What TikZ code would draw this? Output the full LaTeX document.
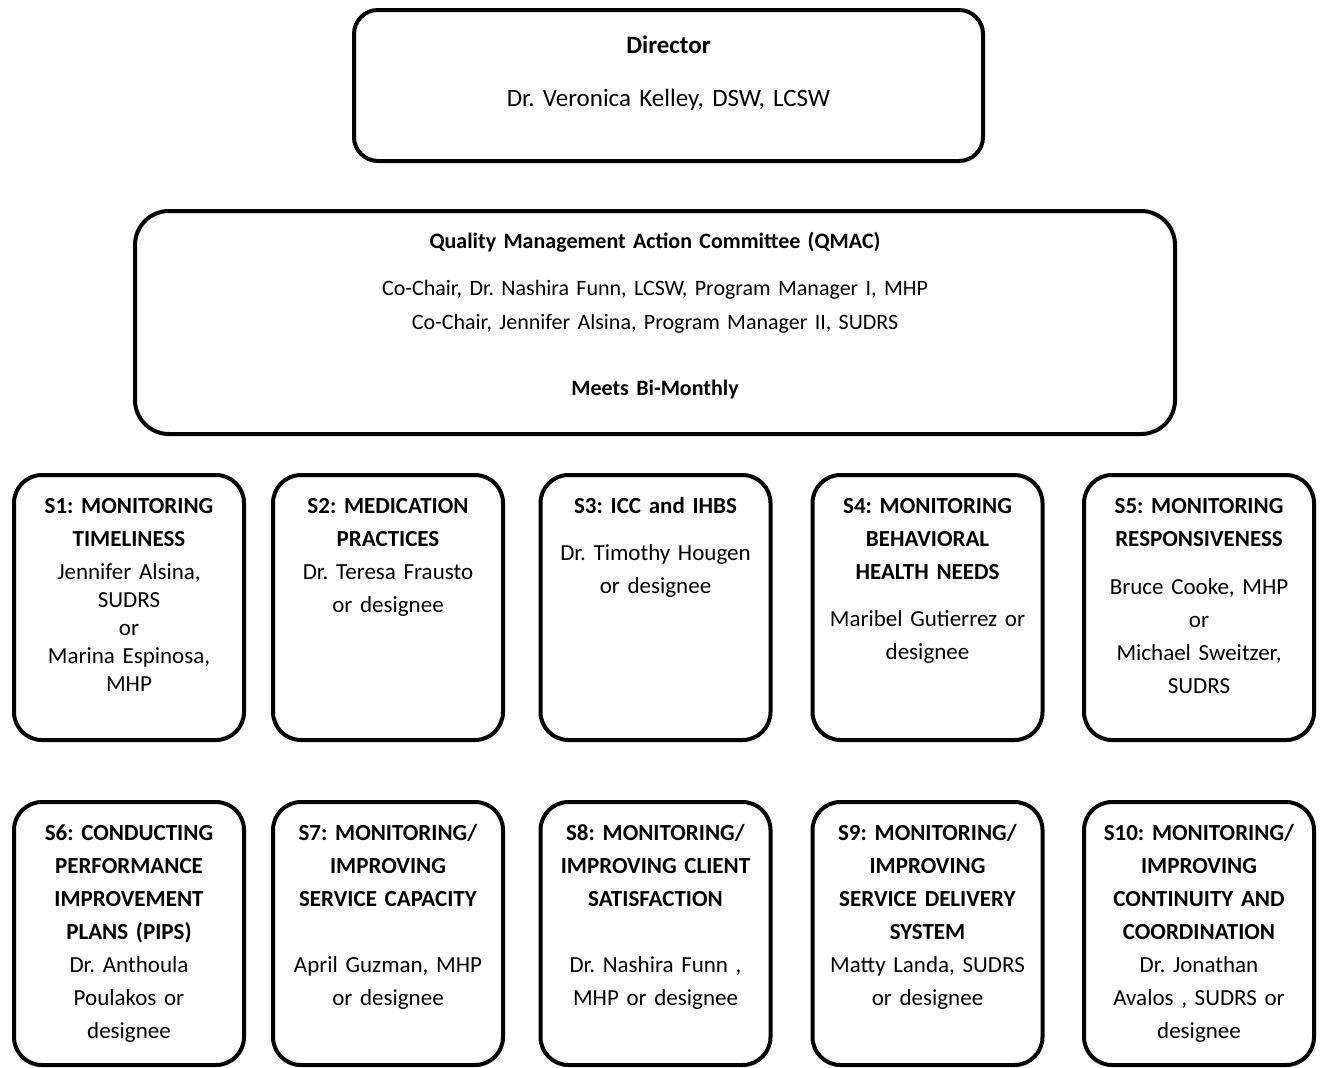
\documentclass[tikz,border=0pt]{standalone}
\usepackage{fontspec}
\setmainfont{Carlito}
\usetikzlibrary{positioning}
\frenchspacing
\tikzset{
  headbox/.style={draw,line width=2pt,outer sep=0pt,inner sep=0pt,align=center},
  unitbox/.style={draw,line width=2pt,rounded corners=14pt,outer sep=0pt,
    inner xsep=4pt,inner ysep=0pt,text width=107pt,align=center,
    text height=19.25pt,text depth=113.25pt,
    font=\fontsize{11.5}{16.5}\selectfont},
  lowbox/.style={unitbox,text height=19pt,text depth=112.5pt}
}

\begin{document}
\begin{tikzpicture}[x=0.5pt,y=-0.5pt]
  \useasboundingbox (0,0) rectangle (1320,1067);
  % top of the chart
  \node[headbox,rounded corners=12pt,text width=314.5pt,text height=21.5pt,text depth=54pt,
    font=\fontsize{12.5}{26.5}\selectfont] (director) at (668.5,85.5)
    {\textbf{Director}\\Dr. Veronica Kelley, DSW, LCSW};
  \node[headbox,rounded corners=17pt,text width=520pt,text height=18.5pt,text depth=93pt,
    font=\fontsize{11}{17}\selectfont] (qmac) at (655,322.5)
    {\textbf{Quality Management Action Committee (QMAC)}\\[6.5pt]
     Co-Chair, Dr. Nashira Funn, LCSW, Program Manager I, MHP\\
     Co-Chair, Jennifer Alsina, Program Manager II, SUDRS\\[16pt]
     \textbf{Meets Bi-Monthly}};
  % first row of subcommittees
  \node[unitbox] (s1) at (129,607.5)
    {\textbf{S1: MONITORING}\\\textbf{TIMELINESS}\\Jennifer Alsina,\\[-2.5pt]SUDRS\\[-2.5pt]or\\[-2.5pt]Marina Espinosa,\\[-2.5pt]MHP};
  \node[unitbox] (s2) at (388,607.5)
    {\textbf{S2: MEDICATION}\\\textbf{PRACTICES}\\Dr. Teresa Frausto\\or designee};
  \node[unitbox] (s3) at (655.5,607.5)
    {\textbf{S3: ICC and IHBS}\\[7pt]Dr. Timothy Hougen\\or designee};
  \node[unitbox] (s4) at (927.5,607.5)
    {\textbf{S4: MONITORING}\\\textbf{BEHAVIORAL}\\\textbf{HEALTH NEEDS}\\[7pt]Maribel Gutierrez or\\designee};
  \node[unitbox] (s5) at (1199,607.5)
    {\textbf{S5: MONITORING}\\\textbf{RESPONSIVENESS}\\[7.5pt]Bruce Cooke, MHP\\or\\Michael Sweitzer,\\SUDRS};
  % second row of subcommittees
  \node[lowbox,below=31pt of s1] (s6)
    {\textbf{S6: CONDUCTING}\\\textbf{PERFORMANCE}\\\textbf{IMPROVEMENT}\\\textbf{PLANS (PIPS)}\\Dr. Anthoula\\Poulakos or\\designee};
  \node[lowbox,below=31pt of s2] (s7)
    {\textbf{S7: MONITORING/}\\\textbf{IMPROVING}\\\textbf{SERVICE CAPACITY}\\[16.5pt]April Guzman, MHP\\or designee};
  \node[lowbox,below=31pt of s3] (s8)
    {\textbf{S8: MONITORING/}\\\textbf{IMPROVING CLIENT}\\\textbf{SATISFACTION}\\[16.5pt]Dr. Nashira Funn ,\\MHP or designee};
  \node[lowbox,below=31pt of s4] (s9)
    {\textbf{S9: MONITORING/}\\\textbf{IMPROVING}\\\textbf{SERVICE DELIVERY}\\\textbf{SYSTEM}\\Matty Landa, SUDRS\\or designee};
  \node[lowbox,below=31pt of s5] (s10)
    {\textbf{S10: MONITORING/}\\\textbf{IMPROVING}\\\textbf{CONTINUITY AND}\\\textbf{COORDINATION}\\Dr. Jonathan\\Avalos , SUDRS or\\designee};
\end{tikzpicture}
\end{document}
